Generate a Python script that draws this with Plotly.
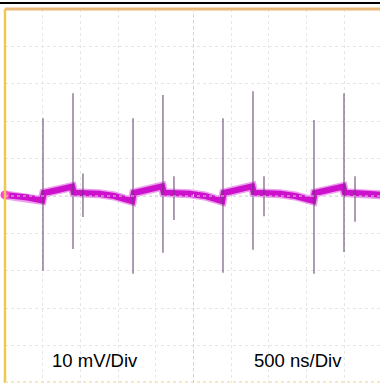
import plotly.graph_objects as go

# --- data (time in ns, voltage in mV, AC coupled ripple) ---
spike_a_t = [504, 1698, 2891, 4098]
spike_a_hi = [20.8, 20.8, 20.8, 20.3]
spike_a_lo = [-20.0, -20.8, -20.5, -20.8]

spike_b_t = [902, 2095, 3289, 4496]
spike_b_hi = [27.5, 27.0, 28.0, 27.5]
spike_b_lo = [-14.2, -15.2, -14.4, -15.0]

spike_c_t = [1034, 2241, 3435, 4642]
spike_c_hi = [6.0, 5.3, 5.3, 5.3]
spike_c_lo = [-5.6, -6.4, -5.4, -6.9]

base_t = [0, 150, 300, 494, 514, 700, 892, 912, 1034, 1250, 1450, 1688,
          1708, 1900, 2085, 2105, 2241, 2450, 2650, 2881,
          2901, 3100, 3279, 3299, 3435, 3650, 3850, 4088,
          4108, 4300, 4486, 4506, 4642, 4800, 4980]
base_v = [0.3, 0.0, -0.4, -1.2, 0.8, 1.6, 2.5, 0.9, 0.9, 0.6, 0.0, -1.4,
          0.8, 1.6, 2.6, 0.9, 0.9, 0.6, 0.0, -1.4,
          0.8, 1.6, 2.6, 0.9, 0.9, 0.6, 0.0, -1.3,
          0.8, 1.6, 2.5, 0.9, 0.9, 0.6, 0.3]

volt_label = "10 mV/Div"
time_label = "500 ns/Div"

# --- build spike segments ---
sx, sy = [], []
for ts, hs, ls in [(spike_a_t, spike_a_hi, spike_a_lo),
                   (spike_b_t, spike_b_hi, spike_b_lo),
                   (spike_c_t, spike_c_hi, spike_c_lo)]:
    for t, h, l in zip(ts, hs, ls):
        sx += [t, t, None]
        sy += [h, l, None]

fig = go.Figure()
fig.add_trace(go.Scatter(x=base_t, y=base_v, mode="lines",
                         line=dict(color="rgba(215,40,215,0.45)", width=9),
                         hoverinfo="skip", showlegend=False))
fig.add_trace(go.Scatter(x=base_t, y=base_v, mode="lines",
                         line=dict(color="#cc10cc", width=6),
                         showlegend=False))
fig.add_trace(go.Scatter(x=sx, y=sy, mode="lines",
                         line=dict(color="rgba(95,60,105,0.85)", width=1.2),
                         showlegend=False))
fig.add_trace(go.Scatter(x=[base_t[0]], y=[base_v[0]], mode="markers",
                         marker=dict(color="#ff40d0", size=9),
                         showlegend=False, cliponaxis=False))

W, H = 380, 383
L, T = 5, 9
pw, ph = W - L, H - T

fig.update_layout(
    width=W, height=H,
    margin=dict(l=L, r=0, t=T, b=0),
    paper_bgcolor="white", plot_bgcolor="white",
    xaxis=dict(range=[0, 5000 * pw / 377], dtick=500, tick0=0,
               showgrid=True, gridcolor="#e6e6e6", griddash="dot", gridwidth=1,
               zeroline=False, showticklabels=False, ticks="", showline=False),
    yaxis=dict(range=[-50, 50], dtick=10, tick0=0,
               showgrid=True, gridcolor="#e6e6e6", griddash="dot", gridwidth=1,
               zeroline=False, showticklabels=False, ticks="", showline=False),
    font=dict(family="Liberation Sans, Arial, sans-serif", color="black"),
)

# frame / decorations
fig.add_shape(type="line", xref="paper", yref="paper", x0=-L / pw, x1=1,
              y0=1 + 6 / ph, y1=1 + 6 / ph, line=dict(color="black", width=2))
fig.add_shape(type="line", xref="paper", yref="paper", x0=0, x1=1,
              y0=1, y1=1, line=dict(color="#eab878", width=3))
fig.add_shape(type="line", xref="paper", yref="paper", x0=0, x1=0,
              y0=0, y1=1, line=dict(color="#efc850", width=2.5))
fig.add_shape(type="line", xref="paper", yref="paper", x0=0, x1=1,
              y0=0.003, y1=0.003, line=dict(color="#f5e2a8", width=1.5, dash="dot"))
# center lines slightly darker
fig.add_shape(type="line", xref="x", yref="paper", x0=2500, x1=2500,
              y0=0, y1=1, line=dict(color="#d4d4d4", width=1, dash="dot"))
fig.add_shape(type="line", xref="paper", yref="y", x0=0, x1=1,
              y0=0, y1=0, line=dict(color="#d4d4d4", width=1, dash="dot"))

fig.add_annotation(text=volt_label, xref="paper", yref="paper",
                   x=(95 - L) / pw, y=(H - 360) / ph, showarrow=False,
                   xanchor="center", yanchor="middle",
                   font=dict(size=18.5, color="black"))
fig.add_annotation(text=time_label, xref="paper", yref="paper",
                   x=(298 - L) / pw, y=(H - 360) / ph, showarrow=False,
                   xanchor="center", yanchor="middle",
                   font=dict(size=18.5, color="black"))

fig.write_html("out.html", config={"displayModeBar": False},
               post_script="document.body.style.margin='0';document.body.style.overflow='hidden';")
